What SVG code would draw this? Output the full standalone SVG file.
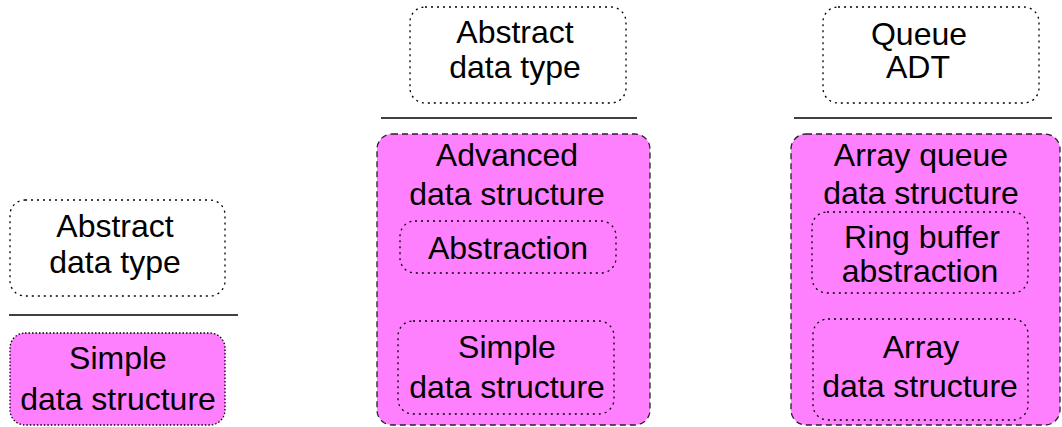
<svg xmlns="http://www.w3.org/2000/svg" width="1062" height="427" viewBox="0 0 1062 427">
<style>
text{font-family:"Liberation Sans",Arial,sans-serif;font-size:32px;fill:#000;text-anchor:middle}
.adt{fill:#fff;stroke:#000;stroke-width:1.3;stroke-dasharray:2 4}
.ds{fill:#ff80ff;stroke:#222;stroke-width:1.3;stroke-dasharray:6 4}
.leaf{fill:#ff80ff;stroke:#000;stroke-width:1.3;stroke-dasharray:1.5 2}
.inner{fill:none;stroke:#000;stroke-width:1.3;stroke-dasharray:2 4}
.sep{stroke:#000;stroke-width:1.5}
</style>
<rect width="1062" height="427" fill="#fff"/>
<g id="connectors">
<line class="sep" x1="9" y1="315" x2="238" y2="315"/>
<line class="sep" x1="381" y1="118" x2="637" y2="118"/>
<line class="sep" x1="398" y1="303" x2="627" y2="303"/>
<line class="sep" x1="794" y1="118" x2="1052" y2="118"/>
<line class="sep" x1="812" y1="304" x2="1040" y2="304"/>
</g>
<g id="left-adt">
<rect class="adt" x="10" y="200" width="215" height="96" rx="15"/>
<text x="115" y="237">Abstract</text>
<text x="115" y="273">data type</text>
</g>
<g id="left-simple">
<rect class="leaf" x="10" y="333" width="215" height="92" rx="15"/>
<text x="118" y="369">Simple</text>
<text x="118" y="410">data structure</text>
</g>
<g id="mid-adt">
<rect class="adt" x="410" y="7" width="216" height="96" rx="15"/>
<text x="515" y="43">Abstract</text>
<text x="515" y="78">data type</text>
</g>
<g id="mid-advanced">
<rect class="ds" x="377" y="134" width="273" height="291" rx="15"/>
<text x="507" y="166">Advanced</text>
<text x="507" y="205">data structure</text>
</g>
<g id="mid-abstraction">
<rect class="inner" x="400" y="221" width="216" height="52" rx="15"/>
<text x="508" y="259">Abstraction</text>
</g>
<g id="mid-simple">
<rect class="inner" x="398" y="321" width="216" height="93" rx="15"/>
<text x="507" y="358">Simple</text>
<text x="507" y="398">data structure</text>
</g>
<g id="right-adt">
<rect class="adt" x="823" y="7" width="216" height="96" rx="15"/>
<text x="919" y="45">Queue</text>
<text x="918" y="78">ADT</text>
</g>
<g id="right-arrayqueue">
<rect class="ds" x="791" y="134" width="269" height="291" rx="15"/>
<text x="921" y="166">Array queue</text>
<text x="921" y="204">data structure</text>
</g>
<g id="right-ringbuffer">
<rect class="inner" x="812" y="212" width="216" height="81" rx="15"/>
<text x="922" y="248">Ring buffer</text>
<text x="920" y="282">abstraction</text>
</g>
<g id="right-array">
<rect class="inner" x="813" y="319" width="215" height="101" rx="15"/>
<text x="921" y="358">Array</text>
<text x="920" y="397">data structure</text>
</g>
</svg>
